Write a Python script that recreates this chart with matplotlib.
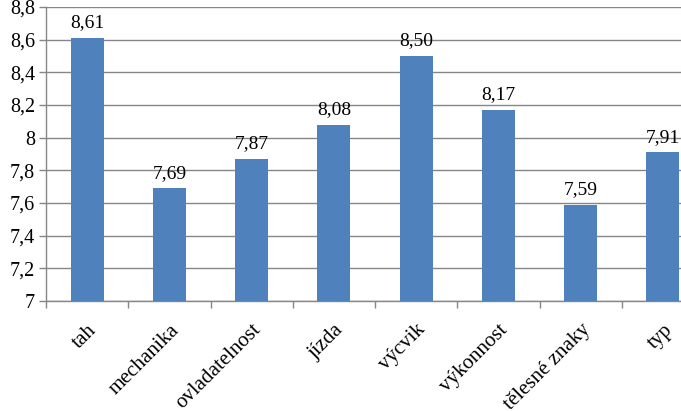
import matplotlib
matplotlib.use('Agg')
import matplotlib.pyplot as plt
import numpy as np

categories = ['tah', 'mechanika', 'ovladatelnost', 'jízda', 'výcvik',
              'výkonnost', 'tělesné znaky', 'typ']
values = [8.61, 7.69, 7.87, 8.08, 8.50, 8.17, 7.59, 7.91]
y_ticks = [7.0, 7.2, 7.4, 7.6, 7.8, 8.0, 8.2, 8.4, 8.6, 8.8]

plt.rcParams['font.family'] = ['Liberation Serif', 'DejaVu Serif']
grey = '#868686'

fig = plt.figure(figsize=(6.81, 4.11), dpi=100)
W, H = 681, 411
# plot area runs past the right edge like the source image
ax = fig.add_axes([46 / W, 1 - 301 / H, (704 - 46) / W, (301 - 7) / H])

x = np.arange(len(categories))
ax.bar(x, [v - 7 for v in values], bottom=7, width=0.4, color='#4F81BD', zorder=3)

for xi, v in zip(x, values):
    ax.text(xi, v + 0.04, f'{v:.2f}'.replace('.', ','), ha='center', va='bottom', fontsize=14)

ax.set_ylim(7, 8.8)
ax.set_xlim(-0.5, len(categories) - 0.5)
ax.set_yticks(y_ticks)
ax.set_yticklabels([f'{t:g}'.replace('.', ',') for t in y_ticks], fontsize=14.5)
ax.yaxis.grid(True, color=grey, linewidth=1, zorder=0)

ax.set_xticks(x)
ax.set_xticklabels(categories, rotation=45, ha='right', rotation_mode='anchor', fontsize=15)
ax.tick_params(axis='x', length=0, pad=14)
ax.set_xticks(np.arange(-0.5, len(categories), 1), minor=True)
ax.tick_params(axis='x', which='minor', length=5, color=grey, width=1)
ax.tick_params(axis='y', length=5, color=grey, width=1, pad=3)

for s in ['top', 'right']:
    ax.spines[s].set_visible(False)
for s in ['left', 'bottom']:
    ax.spines[s].set_color(grey)
    ax.spines[s].set_linewidth(1)

fig.savefig('out.png', dpi=100)
